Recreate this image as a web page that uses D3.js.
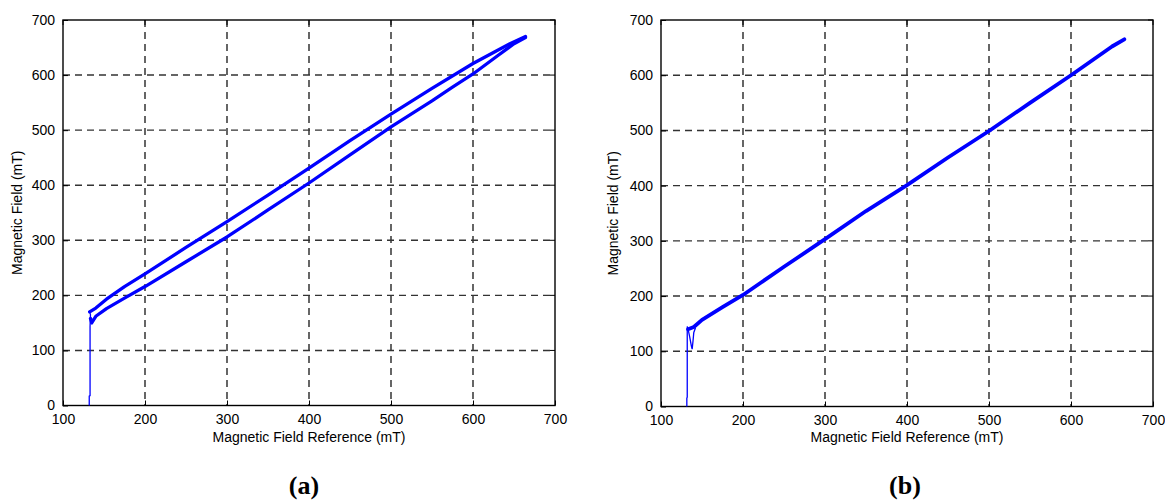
<!DOCTYPE html>
<html>
<head>
<meta charset="utf-8">
<script src="https://cdn.jsdelivr.net/npm/d3@7/dist/d3.min.js"></script>
<style>
  html, body { margin: 0; padding: 0; background: #fff; }
  svg { display: block; }
  text { font-family: "Liberation Sans", Arial, Helvetica, sans-serif; fill: #000; }
</style>
</head>
<body>
<svg id="chart" width="1165" height="503"></svg>
<script>
// Axis ticks shared by both panels (mT)
const xTicks = [100, 200, 300, 400, 500, 600, 700];
const yTicks = [0, 100, 200, 300, 400, 500, 600, 700];

// (a) hysteresis measurement: initial rise, ascending branch, descending branch
const loopRise = [[132, 0], [132, 17], [133, 18], [133, 143], [133.5, 165], [132.5, 170]];
const loopUpper = [[132.5, 170], [140, 177], [153, 193], [175, 216], [200, 239], [250, 287],
  [300, 334], [350, 382], [400, 431], [450, 481], [500, 529], [550, 576], [600, 621],
  [625, 641], [645, 657], [664, 670]];
const loopLower = [[664, 668], [650, 657], [630, 635], [600, 602], [575, 578], [550, 553],
  [500, 506], [450, 455], [400, 404], [350, 355], [300, 306], [250, 261], [200, 216],
  [175, 195], [153, 176], [140, 162], [135, 150], [133.5, 158]];

// (b) compensated measurement: initial rise, settling dip, single trace
const lineRise = [[131.5, 0], [131.5, 15], [132, 17], [132, 145], [133, 140]];
const lineDip = [[133, 140], [135, 126], [137, 110], [138, 104], [139, 118], [140, 134], [142, 142]];
const lineTrace = [[133, 140], [140, 144], [150, 157], [175, 180], [200, 202], [250, 253],
  [300, 303], [350, 354], [400, 401], [450, 451], [500, 499], [550, 550], [600, 600],
  [650, 652], [665, 665]];

const panels = [
  { left: 63, right: 555, top: 20, bottom: 405.5, yTitleX: 17, tag: "(a)", tagX: 304,
    thin: [loopRise], thick: [loopUpper, loopLower], width: 3.3 },
  { left: 661, right: 1153, top: 20, bottom: 406.5, yTitleX: 613, tag: "(b)", tagX: 905,
    thin: [lineRise, lineDip], thick: [lineTrace], width: 3.8 }
];

const svg = d3.select("#chart");
const blue = "#0000ff";

panels.forEach(p => {
  const x = d3.scaleLinear().domain([100, 700]).range([p.left, p.right]);
  const y = d3.scaleLinear().domain([0, 700]).range([p.bottom, p.top]);
  const g = svg.append("g");

  // dashed grid
  g.selectAll(".vgrid").data(xTicks.slice(1, -1)).join("line")
    .attr("x1", d => x(d)).attr("x2", d => x(d))
    .attr("y1", p.top).attr("y2", p.bottom)
    .attr("stroke", "#000").attr("stroke-width", 1.2)
    .attr("stroke-dasharray", "7,5");
  g.selectAll(".hgrid").data(yTicks.slice(1, -1)).join("line")
    .attr("x1", p.left).attr("x2", p.right)
    .attr("y1", d => y(d)).attr("y2", d => y(d))
    .attr("stroke", "#333").attr("stroke-width", 1.4)
    .attr("stroke-dasharray", "7,5");

  // bottom and left axes with inward ticks
  const xAxis = d3.axisBottom(x).tickValues(xTicks).tickSizeInner(-5).tickSizeOuter(0).tickPadding(9);
  const yAxis = d3.axisLeft(y).tickValues(yTicks).tickSizeInner(-5).tickSizeOuter(0).tickPadding(8);
  const gx = g.append("g").attr("transform", `translate(0,${p.bottom})`).call(xAxis);
  const gy = g.append("g").attr("transform", `translate(${p.left},0)`).call(yAxis);
  [gx, gy].forEach(a => {
    a.select(".domain").remove();
    a.selectAll("line").attr("stroke", "#000");
    a.selectAll("text").style("font-size", "14px").style("font-family", "'Liberation Sans', Arial, sans-serif");
  });
  // mirrored ticks on top and right
  g.selectAll(".ttick").data(xTicks).join("line")
    .attr("x1", d => x(d)).attr("x2", d => x(d))
    .attr("y1", p.top).attr("y2", p.top + 5).attr("stroke", "#000");
  g.selectAll(".rtick").data(yTicks).join("line")
    .attr("x1", p.right - 5).attr("x2", p.right)
    .attr("y1", d => y(d)).attr("y2", d => y(d)).attr("stroke", "#000");

  // plot box
  g.append("rect")
    .attr("x", p.left).attr("y", p.top)
    .attr("width", p.right - p.left).attr("height", p.bottom - p.top)
    .attr("fill", "none").attr("stroke", "#000").attr("stroke-width", 1.4);

  // traces
  const line = d3.line().x(d => x(d[0])).y(d => y(d[1]));
  p.thin.forEach(s => g.append("path").attr("d", line(s))
    .attr("fill", "none").attr("stroke", blue).attr("stroke-width", 1.3));
  p.thick.forEach(s => g.append("path").attr("d", line(s))
    .attr("fill", "none").attr("stroke", blue).attr("stroke-width", p.width)
    .attr("stroke-linejoin", "round").attr("stroke-linecap", "round"));

  // axis titles
  g.append("text")
    .attr("x", (p.left + p.right) / 2).attr("y", 442)
    .attr("text-anchor", "middle").style("font-size", "14px")
    .text("Magnetic Field Reference (mT)");
  g.append("text")
    .attr("transform", `translate(${p.yTitleX},${(p.top + p.bottom) / 2}) rotate(-90)`)
    .attr("text-anchor", "middle").attr("dy", "0.35em").style("font-size", "14px")
    .text("Magnetic Field (mT)");

  // panel label
  g.append("text")
    .attr("x", p.tagX).attr("y", 494)
    .attr("text-anchor", "middle")
    .style("font-family", "'Liberation Serif', 'Times New Roman', serif")
    .style("font-size", "26px").style("font-weight", "bold")
    .text(p.tag);
});
</script>
</body>
</html>
